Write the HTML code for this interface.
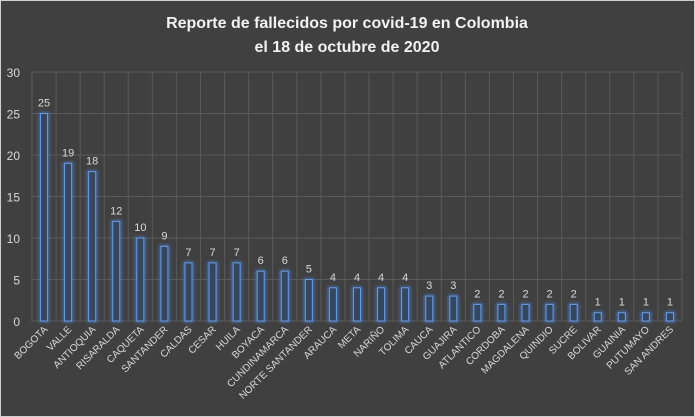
<!DOCTYPE html><html><head><style>body{margin:0;background:#404040}svg{display:block}</style></head><body>
<svg width="695" height="417" xmlns="http://www.w3.org/2000/svg" font-family="Liberation Sans, sans-serif">
<rect x="0" y="0" width="695" height="417" fill="#404040"/>
<rect x="0.5" y="0.5" width="694" height="416" fill="none" stroke="#d0d0d0"/>
<defs><filter id="g" x="-1" y="-1" width="3" height="3"><feGaussianBlur stdDeviation="1.5"/></filter></defs>
<text x="347" y="28" text-anchor="middle" fill="#f2f2f2" font-size="16" font-weight="bold">Reporte de fallecidos por covid-19 en Colombia</text>
<text x="347" y="52" text-anchor="middle" fill="#f2f2f2" font-size="16" font-weight="bold">el 18 de octubre de 2020</text>
<g id="c"></g>
</svg>
<script>
var n=["BOGOTA","VALLE","ANTIOQUIA","RISARALDA","CAQUETA","SANTANDER","CALDAS","CESAR","HUILA","BOYACA","CUNDINAMARCA","NORTE SANTANDER","ARAUCA","META","NARIÑO","TOLIMA","CAUCA","GUAJIRA","ATLANTICO","CORDOBA","MAGDALENA","QUINDIO","SUCRE","BOLIVAR","GUAINIA","PUTUMAYO","SAN ANDRES"];
var v=[25,19,18,12,10,9,7,7,7,6,6,5,4,4,4,4,3,3,2,2,2,2,2,1,1,1,1];
var L=32,R=682,T=72,B=321,w=(R-L)/n.length,s="";
for(var k=0;k<=6;k++){var y=B-(B-T)*k/6;s+='<line x1="'+L+'" x2="'+R+'" y1="'+y+'" y2="'+y+'" stroke="#5a5a5a"/>';s+='<text x="20" y="'+(y+5)+'" text-anchor="end" fill="#d9d9d9" font-size="12">'+(k*5)+'</text>';}
for(var i=0;i<=n.length;i++){var x=L+w*i;s+='<line x1="'+x+'" x2="'+x+'" y1="'+T+'" y2="'+B+'" stroke="#5a5a5a"/>';}
for(var i=0;i<n.length;i++){var cx=L+w*(i+.5),h=(B-T)*v[i]/30,y=B-h;
s+='<rect x="'+(cx-4)+'" y="'+y+'" width="8" height="'+h+'" fill="none" stroke="#4a7fd0" stroke-width="2" filter="url(#g)"/>';
s+='<rect x="'+(cx-3.5)+'" y="'+y+'" width="7" height="'+h+'" fill="#34475f" stroke="#6a9be0" stroke-width="1"/>';
s+='<text x="'+cx+'" y="'+(y-7)+'" text-anchor="middle" fill="#d9d9d9" font-size="11">'+v[i]+'</text>';
s+='<text transform="translate('+(cx+4)+',330) rotate(-45)" text-anchor="end" fill="#d9d9d9" font-size="10">'+n[i]+'</text>';}
document.getElementById("c").innerHTML=s;
</script>
</body></html>
